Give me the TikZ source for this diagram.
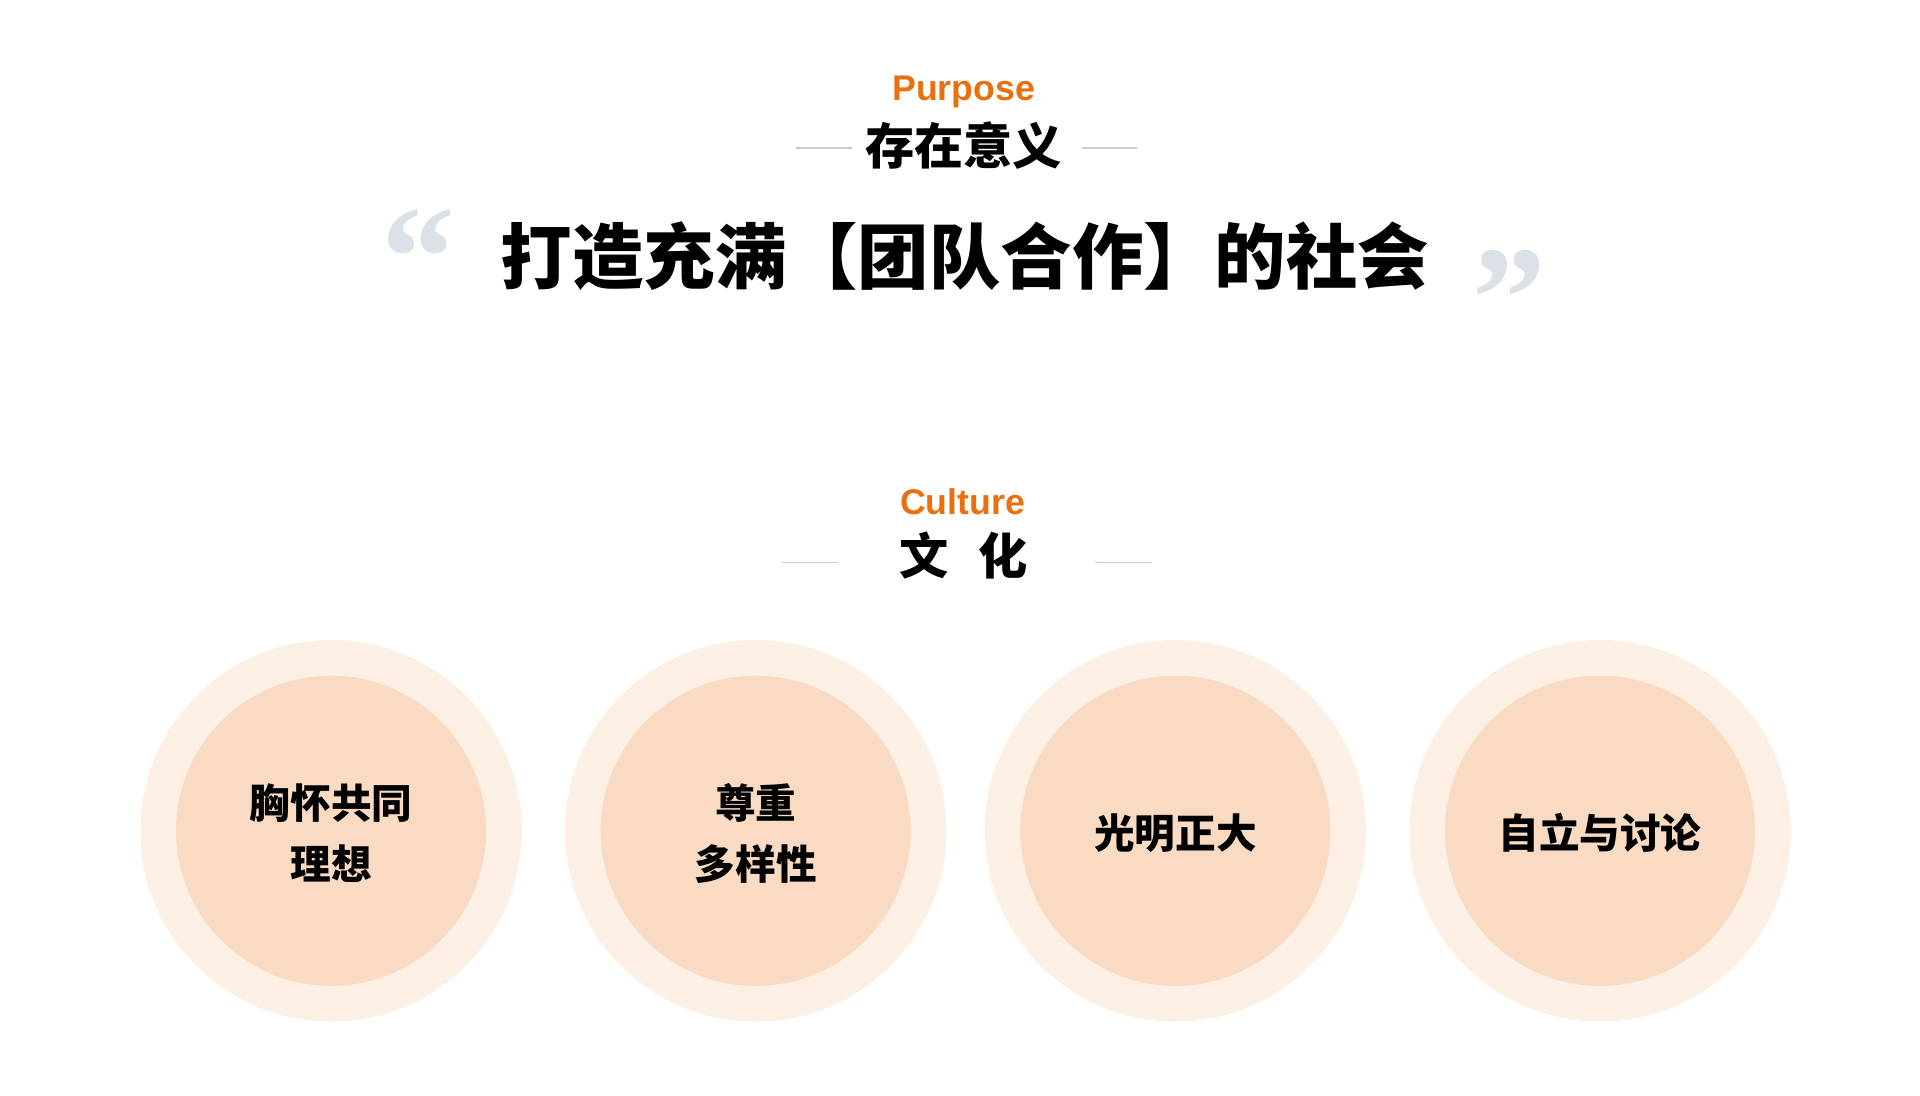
\documentclass[tikz,border=0pt]{standalone}
\usepackage{fontspec}
\setmainfont{Liberation Sans}
\newfontfamily\cjk{Noto Sans CJK SC}
\newfontfamily\qfont{Liberation Serif}
\definecolor{orng}{HTML}{E8700F}
\definecolor{rule}{HTML}{C5CCD8}
\definecolor{quot}{HTML}{DCE1E8}
\definecolor{outc}{HTML}{FCEFE4}
\definecolor{inc}{HTML}{F9DBC3}
\tikzset{
  en/.style={text=orng,font=\fontsize{29}{34}\selectfont\bfseries,inner sep=0},
  sub/.style={font=\cjk\fontsize{40}{48}\selectfont\bfseries,inner sep=0},
  rl/.style={draw=rule,line width=1.5pt},
  val/.style={font=\cjk\fontsize{33}{50}\selectfont\bfseries,align=center,inner sep=0},
  qm/.style={text=quot,font=\qfont\fontsize{120}{120}\selectfont\bfseries,inner sep=0}
}
\begin{document}
\begin{tikzpicture}[x=1pt,y=-1pt]
\useasboundingbox (0,0) rectangle (1560,890);
\node[en] (p) at (783,75) {Purpose};
\node[sub] (pz) at (783,118) {存在意义};
\coordinate (l1a) at (647,120); \coordinate (l1b) at (692,120);
\coordinate (l2a) at (879,120); \coordinate (l2b) at (924,120);
\draw[rl] (l1a) -- (l1b); \draw[rl] (l2a) -- (l2b);
\node[qm] (q1) at (340,210) {“};
\node[qm] (q2) at (1226,243) {”};
\node[font=\cjk\fontsize{58}{64}\selectfont\bfseries,inner sep=0] (t) at (784,208) {打造充满【团队合作】的社会};
\node[en] (c) at (782,408) {Culture};
\node[sub] (cz) at (783,451) {文\hspace{0.6em}化};
\coordinate (l3a) at (635,457); \coordinate (l3b) at (681,457);
\coordinate (l4a) at (890,457); \coordinate (l4b) at (936,457);
\draw[rl] (l3a) -- (l3b); \draw[rl] (l4a) -- (l4b);
\foreach \x/\t [count=\i] in {269/{胸怀共同\\理想},614/{尊重\\多样性},955/{光明正大},1300/{自立与讨论}}{
  \fill[outc] (\x,675) circle (155);
  \fill[inc] (\x,675) circle (126);
  \node[val] (v\i) at (\x,677) {\t};
}
\end{tikzpicture}
\end{document}
